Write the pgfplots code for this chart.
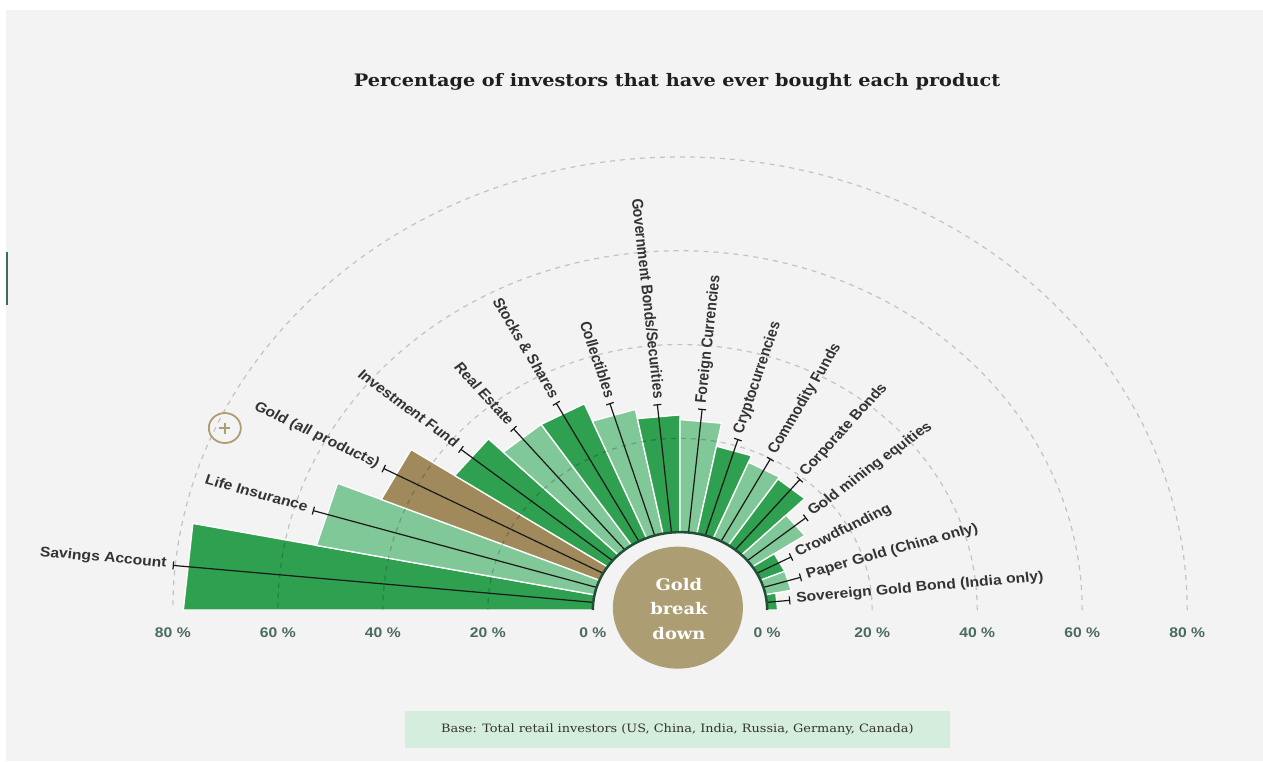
\documentclass[border=0pt]{standalone}
\usepackage{pgfplots}
\pgfplotsset{compat=1.18}
\usepackage{fontspec}
\setmainfont{DejaVu Serif}
\newfontfamily\lblfont{Liberation Sans}
\usetikzlibrary{arrows.meta}

\definecolor{dk}{HTML}{2EA04F}
\definecolor{lt}{HTML}{80C897}
\definecolor{gd}{HTML}{A08A5C}
\definecolor{tanc}{HTML}{AC9D72}
\definecolor{bgc}{HTML}{F3F3F3}
\definecolor{ring}{HTML}{1F4F36}
\definecolor{tickc}{HTML}{4A6B5F}
\definecolor{mint}{HTML}{D4EDDC}
\definecolor{txt}{HTML}{333333}
\definecolor{sidebar}{HTML}{3C6E5A}

\def\Rin{16.6}
\def\dA{11.25}

% radial bar: #1 index, #2 value (%), #3 colour
\newcommand\rbar[3]{%
 \addplot[fill=#3, draw=white, line width=1.3pt] table[row sep=\\,
   x expr={(\Rin+\thisrow{k}*#2)*cos(180-(#1+\thisrow{t})*\dA)},
   y expr={(\Rin+\thisrow{k}*#2)*sin(180-(#1+\thisrow{t})*\dA)}]
   {t k\\ 0 0\\ 0 1\\ 1 1\\ 1 0\\ 0.5 0\\} -- cycle;
}
% label line: #1 index, #2 value, #3 label, #4 anchor side, #5 rotation offset
\newcommand\rlab[5]{%
 \addplot[black!90, line width=1.2pt, -{Bar[width=8pt,line width=1.2pt]}] table[row sep=\\,
   x expr={(\Rin+\thisrow{k}*(#2+2.5))*cos(180-(#1+0.5)*\dA)},
   y expr={(\Rin+\thisrow{k}*(#2+2.5))*sin(180-(#1+0.5)*\dA)}]
   {k\\ 0\\ 1\\}
   node[pos=1, anchor=mid #4, inner xsep=5pt, inner ysep=0pt, xscale=1.12, rotate={#5-(#1+0.5)*\dA},
        font=\lblfont\bfseries\fontsize{14}{16}\selectfont, text=txt] {#3};
}

\begin{document}
\begin{tikzpicture}
\begin{axis}[
  width=1263pt, height=761pt, scale only axis,
  xmin=-129.524, xmax=111.048, ymin=-32.196, ymax=130.064,
  axis x line=middle, axis y line=none,
  x axis line style={draw=none}, xtick style={draw=none},
  xtick={-96.6,-76.6,-56.6,-36.6,-16.6,16.6,36.6,56.6,76.6,96.6},
  xticklabels={80 \%,60 \%,40 \%,20 \%,0 \%,0 \%,20 \%,40 \%,60 \%,80 \%},
  xticklabel style={font=\lblfont\bfseries\fontsize{14}{15}\selectfont, text=tickc, yshift=-12pt, xscale=1.12},
  axis on top,
  clip=false,
]
\coordinate (BL) at (rel axis cs:0,0);
\coordinate (TR) at (rel axis cs:1,1);
% backgrounds
\fill[white] (rel axis cs:0,0) rectangle (rel axis cs:1,1);
\fill[bgc] (axis cs:-128.38,-32.196) rectangle (axis cs:111.048,127.93);
\fill[sidebar] (axis cs:-128.38,65.03) rectangle (axis cs:-128.0,76.33);

% bars
\rbar{0}{78}{dk}
\rbar{1}{54}{lt}
\rbar{2}{45}{gd}
\rbar{3}{35}{dk}
\rbar{4}{31}{lt}
\rbar{5}{31}{dk}
\rbar{6}{27}{lt}
\rbar{7}{25}{dk}
\rbar{8}{24}{lt}
\rbar{9}{19}{dk}
\rbar{10}{17.5}{lt}
\rbar{11}{17}{dk}
\rbar{12}{12}{lt}
\rbar{13}{5}{dk}
\rbar{14}{5}{lt}
\rbar{15}{2}{dk}

% dashed reference arcs (20, 40, 60, 80 %)
\begin{scope}[black, opacity=0.2, line width=1.2pt, dash pattern=on 5pt off 5pt]
\draw (axis cs:36.6,0) arc[start angle=0, end angle=180, x radius=192.15pt, y radius=171.65pt];
\draw (axis cs:56.6,0) arc[start angle=0, end angle=180, x radius=297.15pt, y radius=265.45pt];
\draw (axis cs:76.6,0) arc[start angle=0, end angle=180, x radius=402.15pt, y radius=359.25pt];
\draw (axis cs:96.6,0) arc[start angle=0, end angle=180, x radius=507.15pt, y radius=453.05pt];
\end{scope}

% label lines and labels
\rlab{0}{78}{Savings Account}{east}{0}
\rlab{1}{54}{Life Insurance}{east}{0}
\rlab{2}{45}{Gold (all products)}{east}{0}
\rlab{3}{35}{Investment Fund}{east}{0}
\rlab{4}{31}{Real Estate}{east}{0}
\rlab{5}{31}{Stocks \& Shares}{east}{0}
\rlab{6}{27}{Collectibles}{east}{0}
\rlab{7}{25}{Government Bonds/Securities}{east}{0}
\rlab{8}{24}{Foreign Currencies}{west}{180}
\rlab{9}{19}{Cryptocurrencies}{west}{180}
\rlab{10}{17.5}{Commodity Funds}{west}{180}
\rlab{11}{17}{Corporate Bonds}{west}{180}
\rlab{12}{12}{Gold mining equities}{west}{180}
\rlab{13}{5}{Crowdfunding}{west}{180}
\rlab{14}{5}{Paper Gold (China only)}{west}{180}
\rlab{15}{2}{Sovereign Gold Bond (India only)}{west}{180}

% inner ring and centre disc
\draw[ring, line width=2.5pt] (axis cs:16.6,0) arc[start angle=0, end angle=180, x radius=87.15pt, y radius=77.85pt];
\fill[tanc] (axis cs:-0.4,0.5) ellipse[x radius=65pt, y radius=61pt];
\node[text=white, font=\bfseries\fontsize{16}{24.5}\selectfont, align=center, xscale=1.12] at (axis cs:-0.2,0.3) {Gold\\break\\down};

% plus icon
\draw[tanc, line width=1.8pt] (axis cs:-86.7,38.8) ellipse[x radius=16pt, y radius=15pt];
\draw[tanc, line width=1.5pt] (axis cs:-87.75,38.8) -- (axis cs:-85.65,38.8);
\draw[tanc, line width=1.5pt] (axis cs:-86.7,37.63) -- (axis cs:-86.7,39.97);

% title
\node[font=\bfseries\fontsize{17.2}{20}\selectfont, text=black!88, xscale=1.12] at (axis cs:-0.57,112.6) {Percentage of investors that have ever bought each product};

% footer
\fill[mint] (axis cs:-52.4,-21.5) rectangle (axis cs:51.4,-29.4);
\node[font=\fontsize{11.5}{13}\selectfont, text=txt, xscale=1.12] at (axis cs:-0.5,-25.5) {Base: Total retail investors (US, China, India, Russia, Germany, Canada)};
\end{axis}
\pgfresetboundingbox
\path[use as bounding box] (BL) rectangle (TR);
\end{tikzpicture}
\end{document}
